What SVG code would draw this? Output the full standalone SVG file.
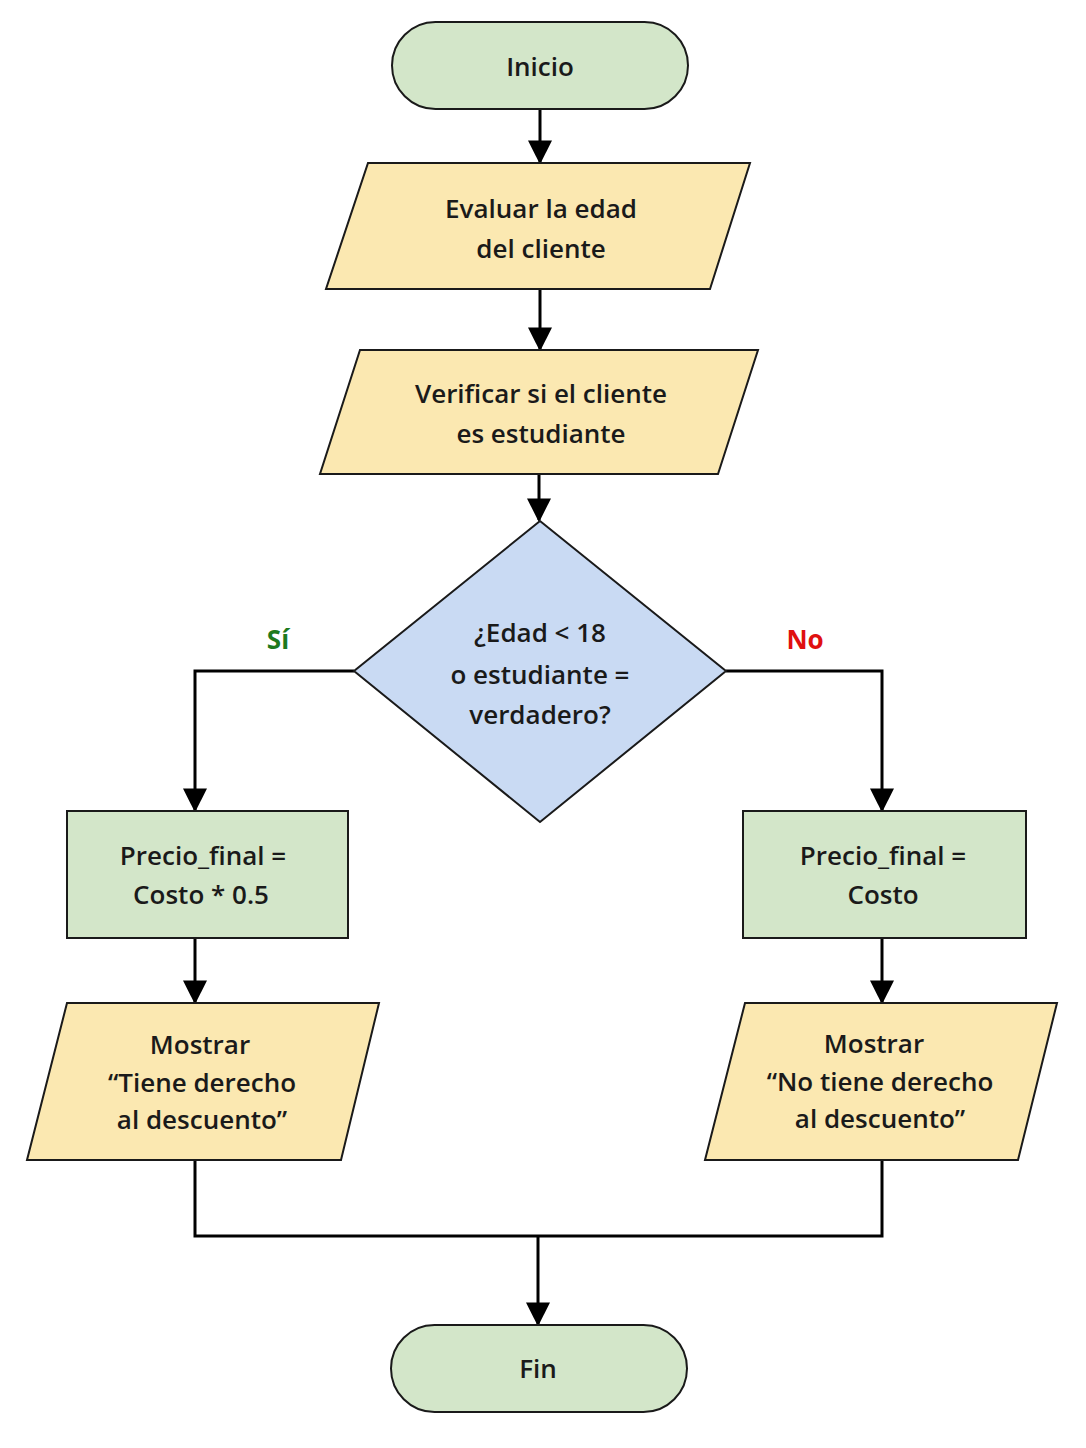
<svg xmlns="http://www.w3.org/2000/svg" width="1086" height="1448" viewBox="0 0 1086 1448">
<defs>
<marker id="ah" viewBox="0 0 10 10" refX="9" refY="5" markerWidth="7" markerHeight="7" orient="auto" markerUnits="userSpaceOnUse"><path d="M0,0 L10,5 L0,10 z" fill="#000"/></marker>
<marker id="ah2" viewBox="0 0 10 10" refX="9" refY="5" markerWidth="24" markerHeight="24" orient="auto" markerUnits="userSpaceOnUse"><path d="M0,0 L10,5 L0,10 z" fill="#000"/></marker>
<style>
.t{font-family:"Open Sans",Lato,sans-serif;font-size:26px;font-weight:600;fill:#1a1a1a;text-anchor:middle}
.g{fill:#d3e6c9;stroke:#1a1a1a;stroke-width:2}
.y{fill:#fbe8b1;stroke:#1a1a1a;stroke-width:2}
.b{fill:#c9daf3;stroke:#1a1a1a;stroke-width:2}
.c{fill:none;stroke:#000;stroke-width:3}
</style>
</defs>
<rect width="1086" height="1448" fill="#fff"/>
<g id="connectors">
<line class="c" x1="540" y1="109" x2="540" y2="162" marker-end="url(#ah2)"/>
<line class="c" x1="540" y1="289" x2="540" y2="349" marker-end="url(#ah2)"/>
<line class="c" x1="539" y1="474" x2="539" y2="520" marker-end="url(#ah2)"/>
<polyline class="c" points="354,671 195,671 195,810" marker-end="url(#ah2)"/>
<polyline class="c" points="726,671 882,671 882,810" marker-end="url(#ah2)"/>
<line class="c" x1="195" y1="938" x2="195" y2="1002" marker-end="url(#ah2)"/>
<line class="c" x1="882" y1="938" x2="882" y2="1002" marker-end="url(#ah2)"/>
<polyline class="c" points="195,1160 195,1236 882,1236 882,1160"/>
<line class="c" x1="538" y1="1236" x2="538" y2="1324" marker-end="url(#ah2)"/>
<text x="278" y="649" style="font-family:'Open Sans',sans-serif;font-size:26px;font-weight:bold;fill:#1e7a1e" text-anchor="middle">Sí</text>
<text x="805" y="649" style="font-family:'Open Sans',sans-serif;font-size:26px;font-weight:bold;fill:#e01010" text-anchor="middle">No</text>
</g>
<g id="inicio"><rect class="g" x="392" y="22" width="296" height="87" rx="43.5"/><text class="t" x="540" y="76">Inicio</text></g>
<g id="evaluar"><polygon class="y" points="368,163 750,163 710,289 326,289"/><text class="t" x="541" y="218">Evaluar la edad</text><text class="t" x="541" y="258">del cliente</text></g>
<g id="verificar"><polygon class="y" points="360,350 758,350 718,474 320,474"/><text class="t" x="541" y="403">Verificar si el cliente</text><text class="t" x="541" y="443">es estudiante</text></g>
<g id="decision"><polygon class="b" points="540,521 726,671 540,822 354,671"/><text class="t" x="540" y="642">¿Edad &lt; 18</text><text class="t" x="540" y="684">o estudiante =</text><text class="t" x="540" y="724">verdadero?</text></g>
<g id="precio-si"><rect class="g" x="67" y="811" width="281" height="127"/><text class="t" x="203" y="865">Precio_final =</text><text class="t" x="201" y="904">Costo * 0.5</text></g>
<g id="precio-no"><rect class="g" x="743" y="811" width="283" height="127"/><text class="t" x="883" y="865">Precio_final =</text><text class="t" x="883" y="904">Costo</text></g>
<g id="mostrar-si"><polygon class="y" points="67,1003 379,1003 341,1160 27,1160"/><text class="t" x="200" y="1054">Mostrar</text><text class="t" x="202" y="1092">“Tiene derecho</text><text class="t" x="202" y="1129">al descuento”</text></g>
<g id="mostrar-no"><polygon class="y" points="745,1003 1057,1003 1018,1160 705,1160"/><text class="t" x="874" y="1053">Mostrar</text><text class="t" x="880" y="1091">“No tiene derecho</text><text class="t" x="880" y="1128">al descuento”</text></g>
<g id="fin"><rect class="g" x="391" y="1325" width="296" height="87" rx="43.5"/><text class="t" x="538" y="1378">Fin</text></g>
</svg>
